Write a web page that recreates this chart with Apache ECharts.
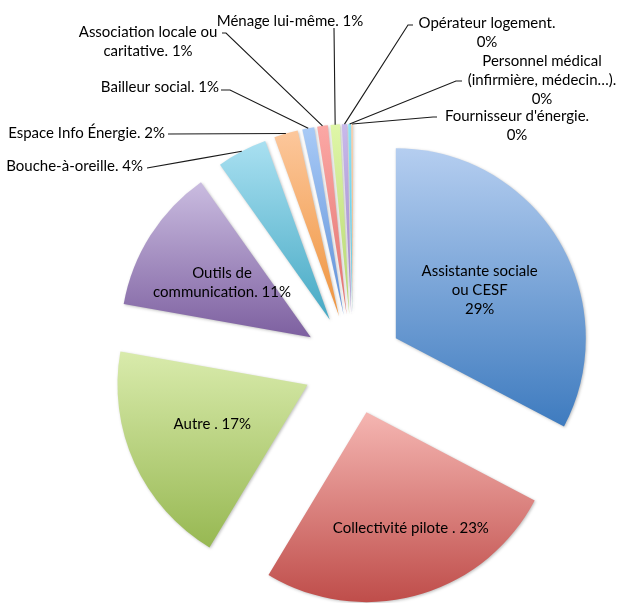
<!DOCTYPE html>
<html>
<head>
<meta charset="utf-8">
<script src="https://cdn.jsdelivr.net/npm/echarts@6/dist/echarts.min.js"></script>
<style>html,body{margin:0;padding:0;background:#fff}#c{width:621px;height:603px}</style>
</head>
<body>
<div id="c"></div>
<script>
// ---- data ----
const categories = [
  'Assistante sociale\nou CESF',
  'Collectivité pilote ',
  'Autre ',
  'Outils de\ncommunication',
  'Bouche-à-oreille',
  'Espace Info Énergie',
  'Bailleur social',
  'Association locale ou\ncaritative',
  'Ménage lui-même',
  'Opérateur logement',
  'Personnel médical\n(infirmière, médecin…)',
  "Fournisseur d'énergie"
];
const values = [29, 23, 17, 11, 3.8, 1.8, 0.9, 0.8, 0.7, 0.4, 0.2, 0.1];
const separators = ['\n', '. ', '. ', '. ', '. ', '. ', '. ', '. ', '. ', '.\n', '.\n', '.\n'];
const insideLabels = [0, 1, 2, 3];

// ---- layout & styles ----
const PIE_CENTER = [353, 364];
const PIE_RADIUS = 190;
const EXPLODE = 50;
const colorStops = [
  ['#B5CEF0', '#3E7BBF'],
  ['#F5B6B2', '#BF4D4A'],
  ['#D9EBAC', '#97B852'],
  ['#CABCE0', '#7D60A0'],
  ['#A9E0F1', '#46A9C4'],
  ['#FCC79C', '#EF943D'],
  ['#A8CAF6', '#5F90D8'],
  ['#FBA8A5', '#E2716E'],
  ['#DFF6A8', '#B5D670'],
  ['#C9B9EB', '#9A84C8'],
  ['#90E6F8', '#4FC2DF'],
  ['#FDD2A9', '#F6A45A']
];
const insideLabelShift = { 0: [0, 3], 1: [18, 22], 2: [-6, -1], 3: [-6, -2] };
const outsideLabelPos = {
  4:  { x: 143, y: 166, align: 'right',  end: [147, 168] },
  5:  { x: 165, y: 133, align: 'right',  end: [168, 134] },
  6:  { x: 219, y: 87,  align: 'right',  end: [221, 90], elbow: [230, 90] },
  7:  { x: 148, y: 42,  align: 'center', end: [222, 33], elbow: [226, 33] },
  8:  { x: 290, y: 21,  align: 'center', end: [334, 28] },
  9:  { x: 487, y: 33,  align: 'center', end: [413, 25], elbow: [408, 25] },
  10: { x: 542, y: 80,  align: 'center', end: [462, 81], elbow: [456, 81] },
  11: { x: 517, y: 126, align: 'center', end: [437, 117], elbow: [433, 117] }
};

const sliceData = categories.map((name, i) => ({
  name: name,
  value: values[i],
  selected: true,
  itemStyle: {
    color: new echarts.graphic.LinearGradient(0, 0, 0, 1, [
      { offset: 0, color: colorStops[i][0] },
      { offset: 1, color: colorStops[i][1] }
    ])
  }
}));

const labelData = categories.map((name, i) => {
  const inside = insideLabels.indexOf(i) >= 0;
  return {
    name: name,
    value: values[i],
    label: { position: inside ? 'inside' : 'outside' },
    labelLine: { show: !inside }
  };
});

const chart = echarts.init(document.getElementById('c'));
chart.setOption({
  animation: false,
  backgroundColor: '#ffffff',
  series: [{
    type: 'pie',
    center: PIE_CENTER,
    radius: [0, PIE_RADIUS],
    startAngle: 90,
    clockwise: true,
    selectedMode: 'multiple',
    selectedOffset: EXPLODE,
    minAngle: 0,
    silent: true,
    data: sliceData,
    label: { show: false },
    labelLine: { show: false },
    itemStyle: {
      borderWidth: 0,
      shadowBlur: 3,
      shadowColor: 'rgba(0,0,0,0.25)',
      shadowOffsetX: 1,
      shadowOffsetY: 1
    },
    select: { itemStyle: { borderWidth: 0 } },
    emphasis: { disabled: true }
  }, {
    // label-only layer (transparent sectors) so label positions are not moved by selection
    type: 'pie',
    center: PIE_CENTER,
    radius: [0, PIE_RADIUS + 2 * EXPLODE],
    startAngle: 90,
    clockwise: true,
    selectedMode: false,
    minAngle: 0,
    silent: true,
    z: 3,
    avoidLabelOverlap: false,
    data: labelData,
    itemStyle: { color: 'rgba(0,0,0,0)', borderWidth: 0 },
    emphasis: { disabled: true },
    label: {
      color: '#000',
      fontFamily: 'Lato',
      fontSize: 15,
      lineHeight: 19,
      align: 'center',
      formatter: p => categories[p.dataIndex] + separators[p.dataIndex] + Math.round(p.value) + '%'
    },
    labelLine: {
      smooth: false,
      lineStyle: { color: '#1a1a1a', width: 1.1 }
    },
    labelLayout: function (params) {
      const i = params.dataIndex;
      const shift = insideLabelShift[i];
      if (shift) {
        const r = params.labelRect;
        return {
          x: r.x + r.width / 2 + shift[0],
          y: r.y + r.height / 2 + shift[1],
          align: 'center',
          verticalAlign: 'middle'
        };
      }
      const cfg = outsideLabelPos[i];
      if (!cfg) return {};
      const pts = params.labelLinePoints;
      const k = (PIE_RADIUS + EXPLODE) / (PIE_RADIUS + 2 * EXPLODE);
      const start = pts
        ? [PIE_CENTER[0] + (pts[0][0] - PIE_CENTER[0]) * k, PIE_CENTER[1] + (pts[0][1] - PIE_CENTER[1]) * k]
        : cfg.end;
      const elbow = cfg.elbow || [(start[0] + cfg.end[0]) / 2, (start[1] + cfg.end[1]) / 2];
      return {
        x: cfg.x,
        y: cfg.y,
        align: cfg.align,
        verticalAlign: 'middle',
        labelLinePoints: [start, elbow, cfg.end]
      };
    }
  }]
});
</script>
</body>
</html>
